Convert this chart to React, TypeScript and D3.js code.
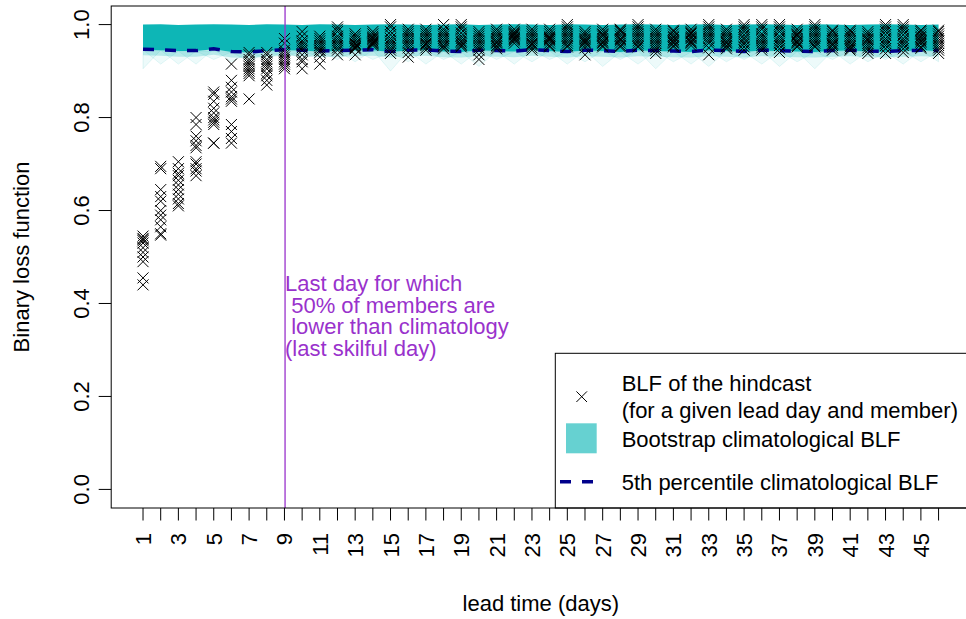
import React from "react";
import * as d3 from "d3";

// ---------------- DATA ----------------
const leadDays = [1,2,3,4,5,6,7,8,9,10,11,12,13,14,15,16,17,18,19,20,21,22,23,24,25,26,27,28,29,30,31,32,33,34,35,36,37,38,39,40,41,42,43,44,45,46];
const xLabelDays = [1,3,5,7,9,11,13,15,17,19,21,23,25,27,29,31,33,35,37,39,41,43,45];
const yTicks = [0, 0.2, 0.4, 0.6, 0.8, 1.0];
const yTickLabels = ["0.0", "0.2", "0.4", "0.6", "0.8", "1.0"];
const lastSkilfulDay = 9;

// BLF of the hindcast: one row per lead day, one value per member
const hindcastBLF = [
  [0.545, 0.54, 0.538, 0.535, 0.53, 0.52, 0.51, 0.50, 0.49, 0.455, 0.44],
  [0.695, 0.69, 0.645, 0.63, 0.62, 0.60, 0.59, 0.58, 0.565, 0.55, 0.547],
  [0.705, 0.69, 0.68, 0.675, 0.665, 0.655, 0.645, 0.635, 0.625, 0.615, 0.61],
  [0.80, 0.785, 0.76, 0.75, 0.74, 0.735, 0.705, 0.70, 0.69, 0.685, 0.675],
  [0.855, 0.85, 0.835, 0.82, 0.81, 0.80, 0.795, 0.79, 0.785, 0.745, 0.745],
  [0.915, 0.88, 0.865, 0.855, 0.845, 0.84, 0.835, 0.785, 0.77, 0.755, 0.745],
  [0.94, 0.935, 0.925, 0.92, 0.915, 0.91, 0.905, 0.90, 0.895, 0.89, 0.84],
  [0.94, 0.935, 0.925, 0.92, 0.915, 0.91, 0.905, 0.895, 0.89, 0.88, 0.87],
  [0.97, 0.96, 0.945, 0.94, 0.935, 0.93, 0.925, 0.92, 0.915, 0.91, 0.905],
  [0.985, 0.975, 0.965, 0.96, 0.955, 0.95, 0.945, 0.935, 0.925, 0.92, 0.905],
  [0.975, 0.97, 0.965, 0.96, 0.955, 0.95, 0.945, 0.945, 0.94, 0.93, 0.915],
  [0.995, 0.99, 0.985, 0.975, 0.97, 0.965, 0.96, 0.955, 0.95, 0.945, 0.935],
  [0.98, 0.975, 0.97, 0.965, 0.96, 0.958, 0.955, 0.952, 0.95, 0.948, 0.935],
  [0.985, 0.98, 0.975, 0.972, 0.97, 0.968, 0.965, 0.962, 0.96, 0.958, 0.955],
  [1.0, 0.995, 0.985, 0.978, 0.97, 0.965, 0.96, 0.955, 0.95, 0.945, 0.938],
  [0.99, 0.985, 0.98, 0.975, 0.97, 0.965, 0.96, 0.955, 0.95, 0.94, 0.93],
  [0.99, 0.985, 0.98, 0.975, 0.97, 0.965, 0.96, 0.958, 0.955, 0.95, 0.945],
  [1.0, 0.99, 0.985, 0.98, 0.975, 0.97, 0.965, 0.96, 0.955, 0.952, 0.948],
  [1.0, 0.995, 0.99, 0.982, 0.975, 0.97, 0.965, 0.962, 0.958, 0.955, 0.952],
  [0.985, 0.98, 0.975, 0.97, 0.965, 0.96, 0.955, 0.95, 0.945, 0.935, 0.925],
  [0.99, 0.985, 0.98, 0.975, 0.97, 0.965, 0.962, 0.96, 0.955, 0.952, 0.948],
  [0.99, 0.985, 0.982, 0.98, 0.978, 0.975, 0.972, 0.97, 0.968, 0.965, 0.96],
  [0.99, 0.985, 0.98, 0.975, 0.97, 0.965, 0.96, 0.958, 0.955, 0.95, 0.945],
  [0.99, 0.985, 0.98, 0.975, 0.972, 0.97, 0.968, 0.965, 0.96, 0.955, 0.952],
  [1.0, 0.995, 0.99, 0.985, 0.98, 0.975, 0.97, 0.965, 0.96, 0.955, 0.952],
  [0.985, 0.98, 0.975, 0.97, 0.968, 0.965, 0.962, 0.96, 0.955, 0.95, 0.935],
  [0.99, 0.985, 0.98, 0.978, 0.975, 0.97, 0.965, 0.962, 0.96, 0.955, 0.952],
  [0.99, 0.988, 0.985, 0.98, 0.975, 0.97, 0.968, 0.965, 0.96, 0.955, 0.952],
  [1.0, 0.995, 0.99, 0.985, 0.98, 0.975, 0.97, 0.965, 0.96, 0.955, 0.952],
  [0.99, 0.985, 0.98, 0.975, 0.97, 0.965, 0.96, 0.955, 0.95, 0.945, 0.938],
  [0.988, 0.985, 0.98, 0.975, 0.972, 0.968, 0.965, 0.962, 0.96, 0.955, 0.952],
  [0.99, 0.985, 0.982, 0.98, 0.975, 0.972, 0.97, 0.965, 0.962, 0.96, 0.955],
  [1.0, 0.995, 0.99, 0.985, 0.98, 0.975, 0.97, 0.965, 0.96, 0.95, 0.935],
  [0.99, 0.985, 0.98, 0.975, 0.97, 0.965, 0.962, 0.96, 0.955, 0.952, 0.948],
  [1.0, 0.995, 0.99, 0.985, 0.978, 0.972, 0.968, 0.962, 0.958, 0.952, 0.945],
  [1.0, 0.995, 0.99, 0.98, 0.975, 0.97, 0.965, 0.96, 0.955, 0.95, 0.945],
  [1.0, 0.995, 0.99, 0.985, 0.975, 0.97, 0.965, 0.96, 0.955, 0.948, 0.94],
  [0.99, 0.985, 0.98, 0.978, 0.975, 0.97, 0.965, 0.962, 0.96, 0.955, 0.952],
  [1.0, 0.995, 0.99, 0.985, 0.98, 0.975, 0.97, 0.965, 0.96, 0.955, 0.952],
  [0.988, 0.985, 0.98, 0.975, 0.97, 0.965, 0.96, 0.958, 0.955, 0.95, 0.945],
  [0.988, 0.985, 0.98, 0.975, 0.97, 0.965, 0.96, 0.955, 0.952, 0.948, 0.945],
  [0.985, 0.98, 0.975, 0.97, 0.968, 0.965, 0.96, 0.955, 0.95, 0.945, 0.938],
  [1.0, 0.995, 0.99, 0.985, 0.978, 0.97, 0.965, 0.96, 0.955, 0.948, 0.938],
  [1.0, 0.995, 0.99, 0.985, 0.978, 0.97, 0.965, 0.96, 0.955, 0.948, 0.94],
  [0.988, 0.985, 0.98, 0.975, 0.972, 0.968, 0.965, 0.962, 0.958, 0.952, 0.949],
  [0.988, 0.985, 0.98, 0.975, 0.97, 0.965, 0.96, 0.955, 0.95, 0.945, 0.938],
];

// Bootstrap climatological BLF envelope (per lead day)
const bootMax = [1.0,1.001,0.999,1.0,1.001,1.0,0.999,1.001,1.0,0.999,1.001,1.0,0.999,1.0,1.001,1.0,0.999,1.0,1.001,0.999,1.0,1.001,1.0,0.999,1.001,1.0,0.999,1.0,1.001,1.0,0.999,1.0,1.001,0.999,1.0,1.001,1.0,0.999,1.001,1.0,0.999,1.0,1.001,1.0,0.999,1.0];
const bootCoreLow = [0.946,0.945,0.943,0.943,0.947,0.941,0.940,0.943,0.945,0.944,0.942,0.943,0.944,0.945,0.941,0.944,0.945,0.942,0.941,0.944,0.943,0.942,0.945,0.943,0.941,0.944,0.943,0.941,0.944,0.943,0.942,0.941,0.944,0.943,0.941,0.944,0.943,0.942,0.941,0.943,0.944,0.942,0.941,0.943,0.944,0.943];
const bootLow = [0.934,0.933,0.931,0.931,0.935,0.929,0.928,0.931,0.933,0.932,0.930,0.931,0.932,0.933,0.929,0.932,0.933,0.930,0.929,0.932,0.931,0.930,0.933,0.931,0.929,0.932,0.931,0.929,0.932,0.931,0.930,0.929,0.932,0.931,0.929,0.932,0.931,0.930,0.929,0.931,0.932,0.930,0.929,0.931,0.932,0.931];
const bootMin = [0.905,0.915,0.915,0.915,0.925,0.92,0.92,0.925,0.93,0.925,0.93,0.925,0.92,0.925,0.90,0.92,0.915,0.925,0.915,0.91,0.925,0.915,0.92,0.925,0.915,0.92,0.91,0.925,0.915,0.905,0.92,0.915,0.91,0.92,0.925,0.915,0.91,0.92,0.905,0.925,0.915,0.92,0.925,0.915,0.92,0.92];

// 5th percentile of the climatological BLF
const p5BLF = [0.947,0.946,0.944,0.944,0.948,0.942,0.941,0.944,0.946,0.945,0.943,0.944,0.945,0.946,0.942,0.945,0.946,0.943,0.942,0.945,0.944,0.943,0.946,0.944,0.942,0.945,0.944,0.942,0.945,0.944,0.943,0.942,0.945,0.944,0.942,0.945,0.944,0.943,0.942,0.944,0.945,0.943,0.942,0.944,0.945,0.944];

const annotationLines = ["Last day for which", " 50% of members are", " lower than climatology", "(last skilful day)"];
const legendLabels = ["BLF of the hindcast", "(for a given lead day and member)", "Bootstrap climatological BLF", "5th percentile climatological BLF"];

// ---------------- LAYOUT ----------------
const W = 966, H = 619;
const plotLeft = 111.2, plotRight = 970.4, plotTop = 6, plotBottom = 508;
const FONT = "'Liberation Sans', Arial, Helvetica, sans-serif";
const FS = 22;
const CYAN = "#00B2B2";
const NAVY = "#00008B";
const PURPLE = "#9932CC";
const annBaselines = [291, 312.5, 334, 356];

const x = d3.scaleLinear().domain([-0.8, 47.8]).range([plotLeft, plotRight]);
const y = d3.scaleLinear().domain([-0.04, 1.04]).range([plotBottom, plotTop]);

const crossPath = (s: number) => `M${-s},${-s}L${s},${s}M${-s},${s}L${s},${-s}`;

export default function App() {
  const idx = leadDays.map((_, i) => i);
  const areaGen = (lo: number[], hi: number[]) =>
    d3.area<number>().x(i => x(leadDays[i])).y0(i => y(lo[i])).y1(i => y(hi[i]))(idx) || "";
  const p5Line = d3.line<number>().x(i => x(leadDays[i])).y(i => y(p5BLF[i]))(idx) || "";

  // faint dips: individual low bootstrap members at each lead day
  const dips = idx.map(i => {
    const a = Math.max(0, i - 1), b = Math.min(leadDays.length - 1, i + 1);
    return d3.line<[number, number]>()([
      [x(leadDays[a]), y(bootCoreLow[a])],
      [x(leadDays[i]), y(bootMin[i])],
      [x(leadDays[b]), y(bootCoreLow[b])],
    ]) || "";
  });

  const legX = 555.3, legY = 353.3;
  const annX = x(lastSkilfulDay) + 0.6;

  return (
    <svg width={W} height={H} style={{ position: "absolute", left: 0, top: 0, background: "#fff" }}
      fontFamily={FONT} fontSize={FS}>
      <rect x={0} y={0} width={W} height={H} fill="#fff" />
      <defs>
        <clipPath id="plotclip">
          <rect x={plotLeft} y={plotTop} width={plotRight - plotLeft} height={plotBottom - plotTop} />
        </clipPath>
      </defs>

      <g clipPath="url(#plotclip)">
        {/* bootstrap faint dips */}
        {dips.map((d, i) => (
          <path key={"dip" + i} d={d + "Z"} fill={CYAN} fillOpacity={0.07} stroke={CYAN} strokeOpacity={0.18} strokeWidth={0.6} />
        ))}
        {/* outer band */}
        <path d={areaGen(bootLow, bootCoreLow)} fill={CYAN} fillOpacity={0.22} />
        {/* dense band */}
        <path d={areaGen(bootCoreLow, bootMax)} fill={CYAN} fillOpacity={0.95} />

        {/* 5th percentile */}
        <path d={p5Line} fill="none" stroke={NAVY} strokeWidth={3.5} strokeDasharray="11 11" />

        {/* hindcast crosses */}
        {hindcastBLF.map((vals, i) =>
          vals.map((v, j) => (
            <path key={`c${i}-${j}`} d={crossPath(5.5)} transform={`translate(${x(leadDays[i])},${y(v)})`}
              stroke="#000" strokeWidth={1} fill="none" />
          ))
        )}

        {/* last skilful day */}
        <line x1={annX} x2={annX} y1={plotTop} y2={plotBottom} stroke={PURPLE} strokeWidth={1.3} />
      </g>

      {/* annotation (one text block, one tspan per line) */}
      <text fill={PURPLE} style={{ whiteSpace: "pre" }}>
        {annotationLines.map((t, i) => (
          <tspan key={"ann" + i} x={annX} y={annBaselines[i]}>{t}</tspan>
        ))}
      </text>

      {/* legend */}
      <rect x={legX} y={legY} width={plotRight - legX} height={plotBottom - legY} fill="#fff" stroke="#000" strokeWidth={1} />
      <path d={crossPath(5.3)} transform={`translate(581.7,396.7)`} stroke="#000" strokeWidth={1} fill="none" />
      <rect x={566} y={423.3} width={30.7} height={30} fill={CYAN} fillOpacity={0.6} />
      <line x1={560} x2={593.3} y1={481.7} y2={481.7} stroke={NAVY} strokeWidth={3.5} strokeDasharray="11 11" />
      <text x={621.7} y={390.7} fill="#000">{legendLabels[0]}</text>
      <text x={621.7} y={418.3} fill="#000">{legendLabels[1]}</text>
      <text x={621.7} y={446.7} fill="#000">{legendLabels[2]}</text>
      <text x={621.7} y={490} fill="#000">{legendLabels[3]}</text>

      {/* box */}
      <rect x={plotLeft} y={plotTop} width={plotRight - plotLeft} height={plotBottom - plotTop} fill="none" stroke="#000" strokeWidth={1} />

      {/* x axis ticks */}
      {leadDays.map(d => (
        <line key={"xt" + d} x1={x(d)} x2={x(d)} y1={plotBottom} y2={plotBottom + 12.5} stroke="#000" strokeWidth={1} />
      ))}
      {xLabelDays.map(d => (
        <text key={"xl" + d} transform={`translate(${x(d) + 8},533) rotate(-90)`} textAnchor="end" fill="#000">{String(d)}</text>
      ))}

      {/* y axis ticks */}
      {yTicks.map((v, i) => (
        <g key={"yt" + i}>
          <line x1={plotLeft - 12.5} x2={plotLeft} y1={y(v)} y2={y(v)} stroke="#000" strokeWidth={1} />
          <text transform={`translate(89,${y(v)}) rotate(-90)`} textAnchor="middle" fill="#000">{yTickLabels[i]}</text>
        </g>
      ))}

      {/* axis titles */}
      <text x={(plotLeft + plotRight) / 2} y={611} textAnchor="middle" fill="#000">lead time (days)</text>
      <text transform={`translate(28.5,${(plotTop + plotBottom) / 2}) rotate(-90)`} textAnchor="middle" fill="#000">Binary loss function</text>
    </svg>
  );
}
